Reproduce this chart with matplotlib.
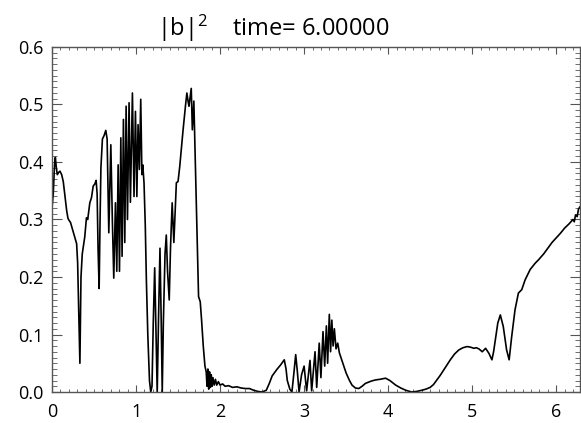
import numpy as np
import matplotlib
matplotlib.use("Agg")
import matplotlib.pyplot as plt
from matplotlib.ticker import MultipleLocator

plt.rcParams['font.family'] = ['Open Sans', 'DejaVu Sans']
plt.rcParams['mathtext.fontset'] = 'custom'
plt.rcParams['mathtext.rm'] = 'Open Sans'
plt.rcParams['mathtext.it'] = 'Open Sans'

# values
x_pos = [0.000, 0.015, 0.030, 0.040, 0.050, 0.063, 0.080, 0.095, 0.115, 0.134,
         0.155, 0.175, 0.190, 0.205, 0.220, 0.250, 0.275, 0.293, 0.305, 0.315,
         0.325, 0.332, 0.338, 0.345, 0.360, 0.390, 0.410, 0.425, 0.450, 0.470,
         0.490, 0.510, 0.525, 0.537, 0.548, 0.561, 0.572, 0.582, 0.600, 0.620,
         0.640, 0.656, 0.676, 0.700, 0.718, 0.735, 0.755, 0.771, 0.787, 0.803,
         0.819, 0.834, 0.850, 0.866, 0.882, 0.898, 0.917, 0.933, 0.957, 0.976,
         0.993, 1.010, 1.024, 1.040, 1.056, 1.070, 1.080, 1.095, 1.110, 1.123,
         1.140, 1.160, 1.175, 1.190, 1.205, 1.222, 1.238, 1.252, 1.268, 1.285,
         1.300, 1.312, 1.325, 1.345, 1.360, 1.375, 1.395, 1.410, 1.430, 1.450,
         1.480, 1.500, 1.520, 1.560, 1.590, 1.605, 1.620, 1.630, 1.645, 1.657,
         1.670, 1.688, 1.705, 1.724, 1.744, 1.764, 1.780, 1.800, 1.820, 1.835,
         1.845, 1.855, 1.865, 1.875, 1.885, 1.895, 1.905, 1.915, 1.930, 1.945,
         1.960, 1.980, 2.000, 2.030, 2.060, 2.100, 2.150, 2.200, 2.250, 2.300,
         2.350, 2.400, 2.450, 2.500, 2.550, 2.586, 2.620, 2.645, 2.680, 2.720,
         2.764, 2.785, 2.800, 2.830, 2.855, 2.880, 2.900, 2.920, 2.940, 2.970,
         3.000, 3.030, 3.070, 3.090, 3.130, 3.150, 3.180, 3.200, 3.225, 3.245,
         3.265, 3.280, 3.300, 3.315, 3.330, 3.345, 3.360, 3.380, 3.400, 3.420,
         3.450, 3.500, 3.540, 3.570, 3.610, 3.650, 3.690, 3.730, 3.800, 3.850,
         3.900, 3.970, 4.020, 4.090, 4.150, 4.210, 4.280, 4.340, 4.400, 4.450,
         4.500, 4.540, 4.580, 4.620, 4.660, 4.700, 4.740, 4.790, 4.840, 4.890,
         4.940, 4.980, 5.020, 5.050, 5.080, 5.120, 5.160, 5.200, 5.235, 5.255,
         5.275, 5.305, 5.335, 5.370, 5.410, 5.440, 5.470, 5.510, 5.550, 5.590,
         5.630, 5.690, 5.750, 5.790, 5.850, 5.900, 5.950, 6.000, 6.050, 6.100,
         6.150, 6.200, 6.215, 6.230, 6.250, 6.265, 6.283]
b_sq = [0.320, 0.345, 0.395, 0.408, 0.392, 0.378, 0.382, 0.384, 0.378, 0.366,
        0.340, 0.315, 0.302, 0.298, 0.295, 0.280, 0.268, 0.258, 0.225, 0.160,
        0.090, 0.050, 0.120, 0.200, 0.240, 0.270, 0.303, 0.300, 0.329, 0.338,
        0.358, 0.362, 0.368, 0.345, 0.250, 0.180, 0.300, 0.390, 0.440, 0.446,
        0.455, 0.440, 0.277, 0.430, 0.300, 0.198, 0.329, 0.210, 0.395, 0.210,
        0.442, 0.236, 0.474, 0.260, 0.497, 0.300, 0.503, 0.330, 0.520, 0.340,
        0.488, 0.340, 0.465, 0.387, 0.509, 0.378, 0.395, 0.364, 0.290, 0.195,
        0.100, 0.020, 0.000, 0.010, 0.120, 0.216, 0.100, 0.000, 0.130, 0.250,
        0.120, 0.000, 0.120, 0.240, 0.273, 0.210, 0.160, 0.250, 0.329, 0.260,
        0.364, 0.366, 0.392, 0.456, 0.500, 0.520, 0.505, 0.497, 0.515, 0.528,
        0.456, 0.506, 0.404, 0.288, 0.166, 0.157, 0.125, 0.080, 0.045, 0.035,
        0.010, 0.040, 0.005, 0.035, 0.008, 0.030, 0.010, 0.025, 0.012, 0.022,
        0.012, 0.018, 0.012, 0.014, 0.010, 0.011, 0.008, 0.009, 0.007, 0.006,
        0.006, 0.003, 0.001, 0.000, 0.003, 0.015, 0.028, 0.033, 0.040, 0.047,
        0.056, 0.040, 0.020, 0.005, 0.000, 0.035, 0.065, 0.035, 0.000, 0.030,
        0.045, 0.002, 0.055, 0.002, 0.070, 0.008, 0.085, 0.025, 0.105, 0.045,
        0.115, 0.050, 0.135, 0.070, 0.125, 0.080, 0.110, 0.075, 0.085, 0.068,
        0.055, 0.033, 0.020, 0.012, 0.007, 0.006, 0.010, 0.015, 0.019, 0.021,
        0.022, 0.024, 0.020, 0.012, 0.007, 0.003, 0.000, 0.001, 0.003, 0.005,
        0.008, 0.013, 0.021, 0.029, 0.038, 0.047, 0.056, 0.066, 0.073, 0.077,
        0.079, 0.078, 0.076, 0.077, 0.075, 0.070, 0.076, 0.067, 0.056, 0.070,
        0.090, 0.120, 0.134, 0.114, 0.073, 0.056, 0.096, 0.143, 0.172, 0.178,
        0.195, 0.213, 0.224, 0.230, 0.240, 0.250, 0.260, 0.268, 0.276, 0.285,
        0.292, 0.300, 0.296, 0.308, 0.305, 0.318, 0.322]

fig = plt.figure(figsize=(5.81, 4.23), dpi=100)
ax = fig.add_axes([52 / 581, 31 / 423, 528 / 581, 345 / 423])

ax.plot(x_pos, b_sq, color="black", linewidth=1.2)

ax.set_xlim(0, 2 * np.pi)
ax.set_ylim(0, 0.6)
ax.xaxis.set_major_locator(MultipleLocator(1))
ax.xaxis.set_minor_locator(MultipleLocator(0.1))
ax.yaxis.set_major_locator(MultipleLocator(0.1))
ax.yaxis.set_minor_locator(MultipleLocator(0.01))
ax.yaxis.set_major_formatter(matplotlib.ticker.FormatStrFormatter("%.1f"))

for s in ax.spines.values():
    s.set_color("#555555")
    s.set_linewidth(1.0)
ax.tick_params(axis="both", which="both", direction="in", top=True, right=True,
               colors="#555555", labelcolor="black", labelsize=13)
ax.tick_params(axis="x", which="major", length=5, pad=8)
ax.tick_params(axis="x", which="minor", length=2.5)
ax.tick_params(axis="y", which="major", length=7, pad=6)
ax.tick_params(axis="y", which="minor", length=3.5)

fig.text(273 / 581, 1 - 36 / 423, "|b|$^{2}$    time= 6.00000",
         ha="center", va="baseline", fontsize=17)

fig.savefig("out.png", dpi=100)
